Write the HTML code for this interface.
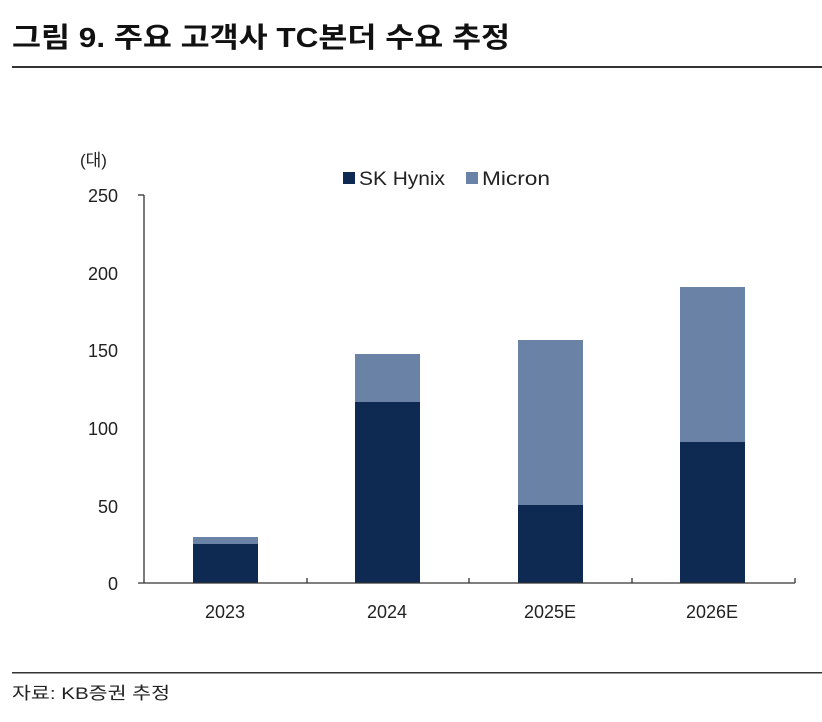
<!DOCTYPE html>
<html><head><meta charset="utf-8"><style>
body{margin:0;background:#fff;width:822px;height:717px;overflow:hidden;font-family:"Liberation Sans","Noto Sans CJK KR",sans-serif;}
</style></head><body>
<svg width="822" height="717" xmlns="http://www.w3.org/2000/svg" font-family="'Liberation Sans','Noto Sans CJK KR',sans-serif">
<text x="12" y="47" font-size="28" font-weight="bold" fill="#111" textLength="498" lengthAdjust="spacingAndGlyphs">그림 9. 주요 고객사 TC본더 수요 추정</text>
<rect x="12" y="66" width="810" height="2" fill="#333"/>
<text x="80" y="166" font-size="17" fill="#222">(대)</text>
<rect x="343" y="172" width="12" height="12" fill="#0f2a52"/>
<text x="359" y="185" font-size="19" fill="#222" textLength="86" lengthAdjust="spacingAndGlyphs">SK Hynix</text>
<rect x="466" y="172" width="12" height="12" fill="#6a82a6"/>
<text x="482" y="185" font-size="19" fill="#222" textLength="68" lengthAdjust="spacingAndGlyphs">Micron</text>
<g font-size="18" fill="#222" text-anchor="end">
<text x="118" y="202">250</text><text x="118" y="280">200</text><text x="118" y="357">150</text>
<text x="118" y="435">100</text><text x="118" y="513">50</text><text x="118" y="590">0</text>
</g>
<g fill="#0f2a52">
<rect x="193" y="544" width="65" height="39"/>
<rect x="355" y="402" width="65" height="181"/>
<rect x="518" y="505" width="65" height="78"/>
<rect x="680" y="442" width="65" height="141"/>
</g>
<g fill="#6a82a6">
<rect x="193" y="537" width="65" height="7"/>
<rect x="355" y="354" width="65" height="48"/>
<rect x="518" y="340" width="65" height="165"/>
<rect x="680" y="287" width="65" height="155"/>
</g>
<g stroke="#333" stroke-width="1.3">
<line x1="144" y1="195" x2="144" y2="583"/>
<line x1="138" y1="195" x2="144" y2="195"/>
<line x1="138" y1="583" x2="795" y2="583"/>
<line x1="307" y1="578" x2="307" y2="583"/>
<line x1="469" y1="578" x2="469" y2="583"/>
<line x1="632" y1="578" x2="632" y2="583"/>
<line x1="795" y1="578" x2="795" y2="583"/>
</g>
<g font-size="18" fill="#222" text-anchor="middle">
<text x="225" y="618">2023</text><text x="387" y="618">2024</text>
<text x="550" y="618">2025E</text><text x="712" y="618">2026E</text>
</g>
<rect x="12" y="672" width="810" height="1.5" fill="#333"/>
<text x="12" y="699" font-size="17" fill="#222" textLength="158" lengthAdjust="spacingAndGlyphs">자료: KB증권 추정</text>
</svg>
</body></html>
